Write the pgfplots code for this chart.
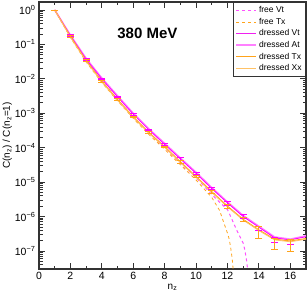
\documentclass[border=0pt]{standalone}
\usepackage{pgfplots}
\pgfplotsset{compat=1.18}
\usepackage{fontspec}
\setmainfont{Liberation Sans}
\definecolor{cVt}{HTML}{FF00FF}
\definecolor{cVtL}{HTML}{F020F0}
\definecolor{cAt}{HTML}{FF80FF}
\definecolor{cfVt}{HTML}{FF50FF}
\definecolor{cTx}{HTML}{FFA31A}
\definecolor{cXx}{HTML}{FFC266}
\definecolor{axc}{HTML}{333333}
\begin{document}
\begin{tikzpicture}
\begin{axis}[
  scale only axis, width=267pt, height=267pt,
  xmin=0, xmax=17, ymode=log, ymin=3e-8, ymax=1.7,
  axis line style={axc, line width=1.1pt},
  tick align=inside,
  xtick={0,2,...,16}, xticklabels={0,2,4,6,8,10,12,14,16},
  minor xtick={1,3,...,17},
  ytick={1,1e-1,1e-2,1e-3,1e-4,1e-5,1e-6,1e-7},
  yticklabels={10\textsuperscript{0},10\textsuperscript{−1},10\textsuperscript{−2},10\textsuperscript{−3},10\textsuperscript{−4},10\textsuperscript{−5},10\textsuperscript{−6},10\textsuperscript{−7}},
  minor ytick={4e-8,5e-8,6e-8,7e-8,8e-8,9e-8,
    2e-7,3e-7,4e-7,5e-7,6e-7,7e-7,8e-7,9e-7,
    2e-6,3e-6,4e-6,5e-6,6e-6,7e-6,8e-6,9e-6,
    2e-5,3e-5,4e-5,5e-5,6e-5,7e-5,8e-5,9e-5,
    2e-4,3e-4,4e-4,5e-4,6e-4,7e-4,8e-4,9e-4,
    2e-3,3e-3,4e-3,5e-3,6e-3,7e-3,8e-3,9e-3,
    2e-2,3e-2,4e-2,5e-2,6e-2,7e-2,8e-2,9e-2,
    2e-1,3e-1,4e-1,5e-1,6e-1,7e-1,8e-1,9e-1},
  major tick length=6pt, minor tick length=3.5pt,
  tick style={axc, line width=0.8pt},
  ticklabel style={font=\fontsize{10.5}{12}\selectfont},
  xlabel={n\textsubscript{z}}, ylabel={C(n\textsubscript{z}) / C(n\textsubscript{z}=1)},
  label style={font=\fontsize{10}{12}\selectfont},
  xlabel style={yshift=3pt},
  ylabel style={yshift=-4pt},
  legend style={at={(1,1)}, anchor=north east, font=\fontsize{8.5}{9.5}\selectfont,
    draw=axc, line width=0.9pt, inner sep=2pt, row sep=0pt, fill=white},
  legend cell align=left,
  legend image code/.code={\draw[#1] (0pt,0pt) -- (20pt,0pt);},
]
\addlegendimage{draw=cfVt, dashed, line width=1pt}
\addlegendentry{free Vt}
\addlegendimage{draw=cTx, dashed, line width=0.8pt}
\addlegendentry{free Tx}
\addlegendimage{draw=cVtL, solid, line width=1.1pt}
\addlegendentry{dressed Vt}
\addlegendimage{draw=cAt, solid, line width=1.6pt}
\addlegendentry{dressed At}
\addlegendimage{draw=cTx, solid, line width=1pt}
\addlegendentry{dressed Tx}
\addlegendimage{draw=cXx, solid, line width=0.8pt}
\addlegendentry{dressed Xx}
\addplot[forget plot, draw=cfVt, dashed, line width=1pt] coordinates {(1,1) (2,0.17) (3,0.034) (4,0.0086) (5,0.0025) (6,7.8e-4) (7,2.7e-4) (8,1.0e-4) (9,3.6e-5) (10,1.35e-5) (11,4.4e-6) (11.5,2.6e-6) (12,1.6e-6) (12.3,8e-7) (12.6,3.9e-7) (12.8,2.6e-7) (13,1.7e-7) (13.1,1.1e-7) (13.2,6e-8) (13.3,2.5e-8) (13.35,1e-8)};
\addplot[forget plot, draw=cTx, dashed, line width=0.8pt] coordinates {(1,1) (2,0.16) (3,0.031) (4,0.0078) (5,0.0023) (6,7.1e-4) (7,2.4e-4) (8,9.0e-5) (9,3.2e-5) (10,1.15e-5) (11,3.6e-6) (11.5,1.5e-6) (11.75,7e-7) (12,3.3e-7) (12.1,2.3e-7) (12.2,1.3e-7) (12.3,6e-8) (12.36,3e-8) (12.4,1e-8)};
\addplot[forget plot, draw=cAt, line width=1.6pt] coordinates {(1,1) (2,0.185) (3,0.039) (4,0.0105) (5,0.0032) (6,1.0e-3) (7,3.5e-4) (8,1.33e-4) (9,5.0e-5) (10,1.92e-5) (11,6.9e-6) (12,2.65e-6) (13,1.07e-6) (14,5.2e-7) (15,2.55e-7) (16,2.2e-7) (17,2.75e-7)};
\addplot[forget plot, draw=cVt, line width=0.8pt] coordinates {(1,1) (2,0.18) (3,0.037) (4,0.0099) (5,0.0030) (6,9.4e-4) (7,3.3e-4) (8,1.25e-4) (9,4.7e-5) (10,1.8e-5) (11,6.5e-6) (12,2.5e-6) (13,1.0e-6) (14,4.9e-7) (15,2.4e-7) (16,2.1e-7) (17,2.6e-7)};
\addplot[forget plot, draw=cTx, line width=1pt] coordinates {(1,1) (2,0.17) (3,0.034) (4,0.0085) (5,0.0025) (6,7.9e-4) (7,2.75e-4) (8,1.07e-4) (9,3.9e-5) (10,1.45e-5) (11,5.3e-6) (12,2.0e-6) (13,8.3e-7) (14,4.1e-7) (15,2.2e-7) (16,1.95e-7) (17,2.3e-7)};
\addplot[forget plot, draw=cXx, line width=0.8pt] coordinates {(1,1) (2,0.162) (3,0.0323) (4,0.0081) (5,0.00238) (6,7.5e-4) (7,2.6e-4) (8,1.02e-4) (9,3.7e-5) (10,1.38e-5) (11,5.0e-6) (12,1.9e-6) (13,7.9e-7) (14,3.9e-7) (15,2.1e-7) (16,1.85e-7) (17,2.2e-7)};
\addplot[forget plot, draw=none, error bars/.cd, y dir=both, y explicit,
  error bar style={draw=cVt, line width=0.8pt, solid},
  error mark options={rotate=90, draw=cVt, mark size=3.5pt, line width=0.8pt}]
  coordinates {(2,0.18)+-(0,0.009) (3,0.037)+-(0,0.0019) (4,0.0099)+-(0,0.0005) (5,0.0030)+-(0,0.00015) (6,9.4e-4)+-(0,4.7e-5) (7,3.3e-4)+-(0,1.7e-5) (8,1.25e-4)+-(0,6e-6) (9,4.7e-5)+-(0,3.8e-6) (10,1.8e-5)+-(0,1.4e-6) (11,6.5e-6)+-(0,5.2e-7) (12,2.5e-6)+-(0,3.2e-7) (13,1.0e-6)+-(0,1.3e-7) (14,4.6e-7)+-(0,6e-8) (15,2.1e-7)+-(0,3e-8) (16,1.9e-7)+-(0,3e-8)};
\addplot[forget plot, draw=none, error bars/.cd, y dir=both, y explicit,
  error bar style={draw=cTx, line width=0.8pt, solid},
  error mark options={rotate=90, draw=cTx, mark size=3.5pt, line width=0.8pt}]
  coordinates {(1,1)+-(0,0) (2,0.17)+-(0,0.008) (3,0.034)+-(0,0.0017) (4,0.0085)+-(0,0.00043) (5,0.0025)+-(0,0.00013) (6,7.9e-4)+-(0,4e-5) (7,2.75e-4)+-(0,1.4e-5) (8,1.07e-4)+-(0,5.5e-6) (9,3.9e-5)+-(0,3.1e-6) (10,1.45e-5)+-(0,1.2e-6) (11,5.3e-6)+-(0,4.5e-7) (12,2.0e-6)+-(0,2.6e-7) (13,8.3e-7)+-(0,1.1e-7) (14,3.8e-7)+-(0,1.4e-7) (15,1.7e-7)+-(0,6e-8) (16,1.6e-7)+-(0,6e-8)};
\node[font=\bfseries\fontsize{15}{17}\selectfont] at (axis cs:6.9,0.21) {380 MeV};
\end{axis}
\pgfresetboundingbox
\path ([shift={(-39pt,-27pt)}]current axis.south west) rectangle ([shift={(2pt,2pt)}]current axis.north east);
\end{tikzpicture}
\end{document}
